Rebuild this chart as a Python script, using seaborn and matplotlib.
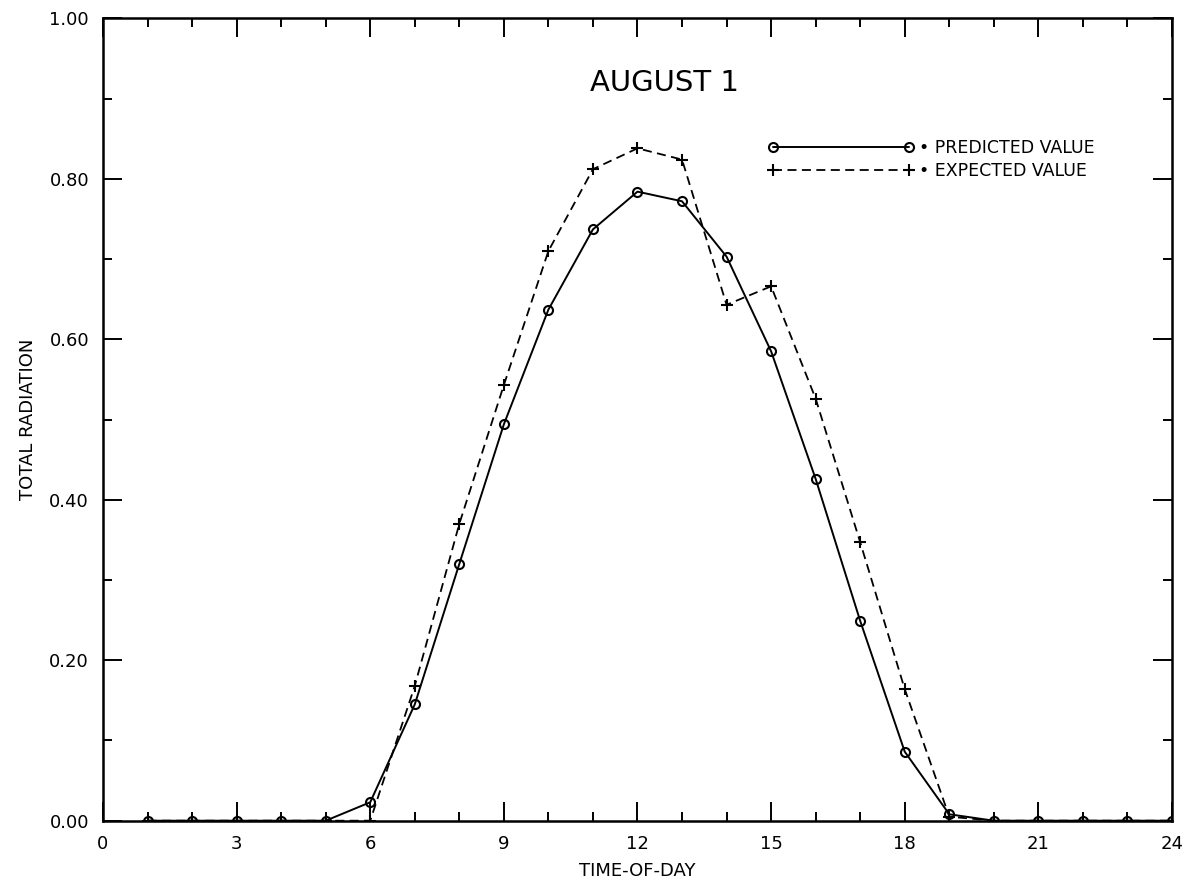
"""
August 1 total radiation: predicted vs expected by time of day
"""
import matplotlib
matplotlib.use("Agg")
import matplotlib.pyplot as plt
from matplotlib.lines import Line2D
from matplotlib.ticker import MultipleLocator
import pandas as pd
import seaborn as sns

HOURS = list(range(1, 25))
PREDICTED = [0, 0, 0, 0, 0, 0.023, 0.145, 0.320, 0.494, 0.637, 0.737, 0.784,
             0.772, 0.703, 0.585, 0.426, 0.249, 0.086, 0.008, 0, 0, 0, 0, 0]
EXPECTED = [0, 0, 0, 0, 0, 0, 0.168, 0.370, 0.543, 0.710, 0.812, 0.838,
            0.824, 0.643, 0.666, 0.526, 0.347, 0.164, 0.005, 0, 0, 0, 0, 0]
X_TICKS = [0, 3, 6, 9, 12, 15, 18, 21, 24]
Y_TICKS = [0.0, 0.2, 0.4, 0.6, 0.8, 1.0]
TITLE = "AUGUST 1"
LABELS = ["\u2022 PREDICTED VALUE", "\u2022 EXPECTED VALUE"]

sns.set_style("ticks", {"axes.edgecolor": "black", "text.color": "black",
                        "xtick.color": "black", "ytick.color": "black",
                        "axes.labelcolor": "black"})
plt.rcParams["font.family"] = ["DejaVu Sans"]

df = pd.DataFrame({"hour": HOURS, "predicted": PREDICTED, "expected": EXPECTED})

fig = plt.figure(figsize=(11.89, 8.86), dpi=100)
ax = fig.add_axes([0.0866, 0.0737, 0.8991, 0.9056])

# expected: dashed with plus markers
sns.lineplot(data=df, x="hour", y="expected", ax=ax, color="black", linewidth=1.3,
             marker="+", markersize=8, markeredgewidth=1.5, markeredgecolor="black")
ax.lines[-1].set_dashes([5, 3])
# predicted: solid with open circles
sns.lineplot(data=df, x="hour", y="predicted", ax=ax, color="black", linewidth=1.4,
             marker="o", markersize=6.5, markerfacecolor="none",
             markeredgecolor="black", markeredgewidth=1.5)

ax.set_xlim(0, 24)
ax.set_ylim(0, 1.0)
ax.set_xticks(X_TICKS)
ax.set_xticklabels([str(t) for t in X_TICKS])
ax.set_yticks(Y_TICKS)
ax.set_yticklabels([f"{t:.2f}" for t in Y_TICKS])
ax.xaxis.set_minor_locator(MultipleLocator(1))
ax.yaxis.set_minor_locator(MultipleLocator(0.1))
ax.tick_params(which="both", direction="in", top=True, right=True, width=1.4,
               labelsize=13, pad=10, colors="black")
ax.tick_params(which="major", length=13.5)
ax.tick_params(which="minor", length=6.5)
for sp in ax.spines.values():
    sp.set_linewidth(1.8)
    sp.set_color("black")
    sp.set_visible(True)

ax.set_xlabel("TIME-OF-DAY", fontsize=13, labelpad=7, color="black")
ax.set_ylabel("TOTAL RADIATION", fontsize=13, labelpad=9, color="black")
ax.text(12.6, 0.92, TITLE, fontsize=21, ha="center", va="center", color="black")

handles = [
    Line2D([], [], color="black", linewidth=1.4, marker="o", markersize=6.5,
           markerfacecolor="none", markeredgewidth=1.5),
    Line2D([], [], color="black", linewidth=1.3, linestyle=(0, (5, 3)), marker="+",
           markersize=8, markeredgewidth=1.5),
]
leg = ax.legend(handles, LABELS, loc="upper left", bbox_to_anchor=(0.622, 0.849),
                numpoints=2, handlelength=8.4, handletextpad=0.3, labelspacing=0.25,
                borderpad=0, borderaxespad=0, frameon=False, fontsize=12.5)
for t in leg.get_texts():
    t.set_color("black")

plt.savefig("out.png", dpi=100)
